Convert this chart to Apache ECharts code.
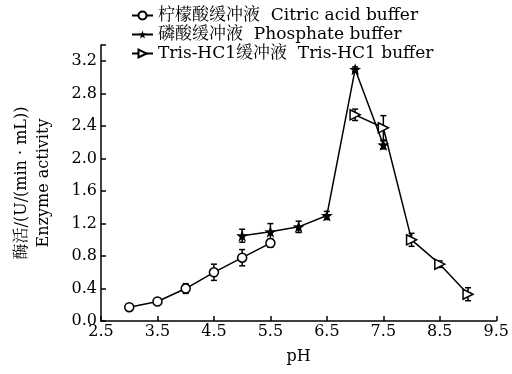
<!DOCTYPE html>
<html><head><meta charset="utf-8">
<script src="https://cdn.jsdelivr.net/npm/echarts@6/dist/echarts.min.js"></script>
<style>html,body{margin:0;padding:0;background:#fff}#c{width:512px;height:374px}</style>
</head><body><div id="c"></div>
<script>
const citricPH = [3.0, 3.5, 4.0, 4.5, 5.0, 5.5];
const citricVal = [0.17, 0.24, 0.40, 0.60, 0.78, 0.96];
const citricErr = [0.04, 0.03, 0.06, 0.10, 0.10, 0.05];
const phosPH = [5.0, 5.5, 6.0, 6.5, 7.0, 7.5];
const phosVal = [1.05, 1.10, 1.16, 1.30, 3.10, 2.17];
const phosErr = [0.08, 0.10, 0.07, 0.05, 0.03, 0.05];
const trisPH = [7.0, 7.5, 8.0, 8.5, 9.0];
const trisVal = [2.54, 2.38, 1.00, 0.70, 0.33];
const trisErr = [0.07, 0.15, 0.08, 0.04, 0.08];
const seriesNames = ['柠檬酸缓冲液  Citric acid buffer', '磷酸缓冲液  Phosphate buffer', 'Tris-HC1缓冲液  Tris-HC1 buffer'];
const yTicks = ['0.0','0.4','0.8','1.2','1.6','2.0','2.4','2.8','3.2'];

const FONT = '"DejaVu Serif", "Noto Serif CJK SC", "Noto Sans CJK SC", serif';
const star = 'path://M0,-10 L2.35,-3.24 L9.51,-3.09 L3.8,1.24 L5.88,8.09 L0,4 L-5.88,8.09 L-3.8,1.24 L-9.51,-3.09 L-2.35,-3.24 Z';

function pairs(xs, ys){ return xs.map((x,i)=>[x, ys[i]]); }
function errData(xs, ys, es){ return xs.map((x,i)=>[x, ys[i]-es[i], ys[i]+es[i]]); }
function errSeries(xs, ys, es){
  return {
    type:'custom', silent:true, z:1,
    data: errData(xs, ys, es),
    renderItem: function(params, api){
      const lo = api.coord([api.value(0), api.value(1)]);
      const hi = api.coord([api.value(0), api.value(2)]);
      const w = 3;
      const st = {stroke:'#000', lineWidth:1.5};
      return {type:'group', children:[
        {type:'line', shape:{x1:lo[0],y1:lo[1],x2:hi[0],y2:hi[1]}, style:st},
        {type:'line', shape:{x1:lo[0]-w,y1:lo[1],x2:lo[0]+w,y2:lo[1]}, style:st},
        {type:'line', shape:{x1:hi[0]-w,y1:hi[1],x2:hi[0]+w,y2:hi[1]}, style:st}
      ]};
    }
  };
}

const chart = echarts.init(document.getElementById('c'));
chart.setOption({
  animation:false,
  backgroundColor:'#fff',
  textStyle:{fontFamily:FONT, color:'#000'},
  grid:{left:101, right:14, top:45, bottom:53},
  legend:{
    orient:'vertical', left:126, top:2, itemGap:2, itemWidth:21, itemHeight:10,
    textStyle:{fontFamily:FONT, fontSize:17, color:'#000'},
    data: seriesNames
  },
  xAxis:{
    type:'value', min:2.5, max:9.5, interval:1,
    name:'pH', nameLocation:'middle', nameGap:28,
    nameTextStyle:{fontFamily:FONT, fontSize:16, color:'#000'},
    axisLine:{lineStyle:{color:'#000', width:1.5}},
    axisTick:{inside:true, length:5, lineStyle:{color:'#000', width:1.5}},
    axisLabel:{fontFamily:FONT, fontSize:16, color:'#000', margin:3, formatter:v=>v.toFixed(1)},
    splitLine:{show:false}
  },
  yAxis:{
    type:'value', min:0, max:3.4, interval:0.4,
    name:'酶活/(U/(min · mL))\nEnzyme activity', nameLocation:'middle', nameRotate:90, nameGap:46,
    nameTextStyle:{fontFamily:FONT, fontSize:16, color:'#000', lineHeight:22},
    axisLine:{lineStyle:{color:'#000', width:1.5}},
    axisTick:{inside:true, length:5, lineStyle:{color:'#000', width:1.5}},
    axisLabel:{fontFamily:FONT, fontSize:16, color:'#000', margin:4,
      formatter:function(v){ const i = Math.round(v/0.4); return (Math.abs(v - i*0.4) < 1e-6 && i < yTicks.length) ? yTicks[i] : ''; }},
    splitLine:{show:false}
  },
  series:[
    errSeries(citricPH, citricVal, citricErr),
    errSeries(phosPH, phosVal, phosErr),
    errSeries(trisPH, trisVal, trisErr),
    {name:seriesNames[0], type:'line', z:3, data:pairs(citricPH, citricVal),
     symbol:'circle', symbolSize:9,
     lineStyle:{color:'#000', width:1.5},
     itemStyle:{color:'#fff', borderColor:'#000', borderWidth:1.5}},
    {name:seriesNames[1], type:'line', z:3, data:pairs(phosPH, phosVal),
     symbol:star, symbolSize:12,
     lineStyle:{color:'#000', width:1.5},
     itemStyle:{color:'#000', borderColor:'#000', borderWidth:0}},
    {name:seriesNames[2], type:'line', z:3, data:pairs(trisPH, trisVal),
     symbol:'triangle', symbolRotate:-90, symbolSize:10,
     lineStyle:{color:'#000', width:1.5},
     itemStyle:{color:'#fff', borderColor:'#000', borderWidth:1.5}}
  ]
});
</script></body></html>
